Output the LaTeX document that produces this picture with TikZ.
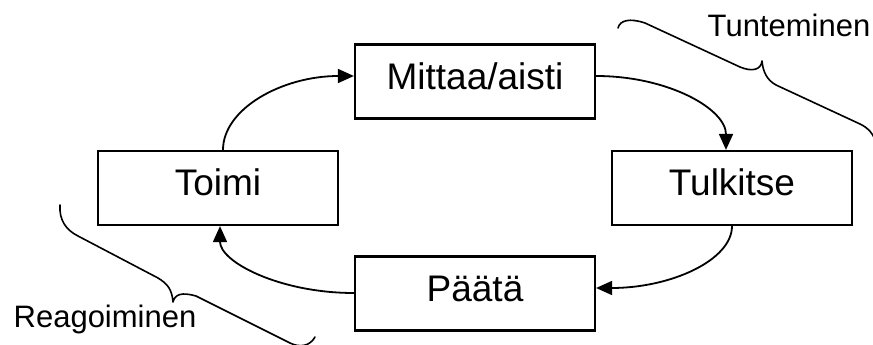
\documentclass[tikz,border=0pt]{standalone}
\usepackage{fontspec}
\setmainfont{Liberation Sans}
\usetikzlibrary{arrows.meta,calc}

\tikzset{
  stage/.style={draw, line width=2.2pt, rectangle, minimum width=240pt, minimum height=74pt,
    inner sep=0pt, text height=27pt, text depth=12pt,
    font=\fontsize{37}{44}\selectfont},
  flow/.style={line width=1.8pt, -{Triangle[length=16pt,width=14pt]}},
  bracket/.style={line width=1.6pt, line cap=round, line join=round},
  caption/.style={anchor=base, inner sep=0pt, font=\fontsize{31}{37}\selectfont}
}

\begin{document}
\begin{tikzpicture}[x=1pt, y=-1pt]
  \useasboundingbox (0,0) rectangle (873,345);

  % the four stages of the cycle
  \node[stage] (mittaa)   at (475,81.5) {Mittaa/aisti};
  \node[stage] (tulkitse) at (732,188)  {Tulkitse};
  \node[stage] (paata)    at (475,293.5) {Päätä};
  \node[stage] (toimi)    at (218,188)  {Toimi};

  % curved arrows running clockwise round the cycle
  \draw[flow] ($(toimi.north)+(5,0)$) .. controls +(0,-41) and +(-72,0) .. ($(mittaa.west)+(0,-5.5)$);
  \draw[flow] ($(mittaa.east)+(0,-5.5)$) .. controls +(72,0) and +(0,-41) .. ($(tulkitse.north)+(-6,0)$);
  \draw[flow] (tulkitse.south) .. controls +(0,34) and +(75,0) .. ($(paata.east)+(0,-5.5)$);
  \draw[flow] ($(paata.west)+(0,-0.5)$) .. controls +(-74,0) and +(0,36) .. ($(toimi.south)+(2,0)$);

  % brace over the sensing half
  \draw[bracket] (618,28) .. controls (620,20) and (630,18) .. (645,23)
    -- (740,67) .. controls (752,72) and (761,70) .. (762,61)
    .. controls (763,72) and (767,80) .. (776,85)
    -- (860,124) .. controls (868,128) and (872,132) .. (875,140);
  \node[caption] (tunteminen) at (789,37) {Tunteminen};

  % brace under the acting half
  \draw[bracket] (60,205) .. controls (59,220) and (66,230) .. (78,236)
    -- (158,278) .. controls (168,284) and (172,290) .. (173,302)
    .. controls (175,294) and (182,292) .. (196,296)
    -- (290,343) .. controls (300,348) and (310,346) .. (315,337);
  \node[caption] (reagoiminen) at (105,327) {Reagoiminen};
\end{tikzpicture}
\end{document}
